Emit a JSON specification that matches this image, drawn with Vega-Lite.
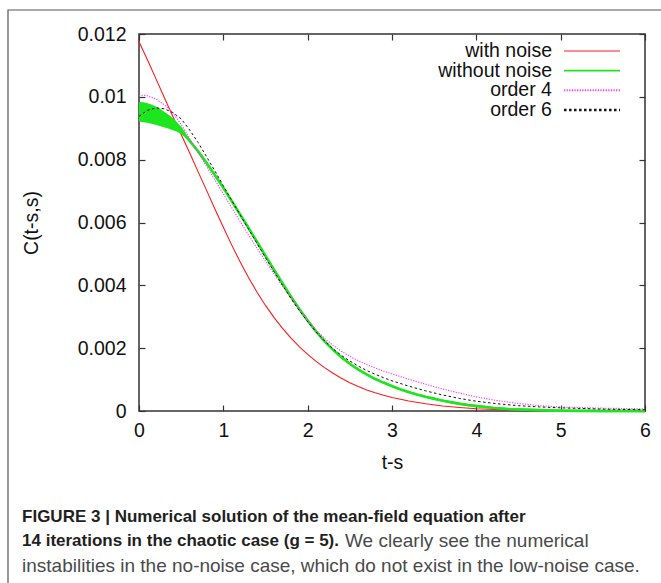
{
  "$schema": "https://vega.github.io/schema/vega-lite/v6.json",
  "width": 506,
  "height": 377,
  "autosize": {"type": "none"},
  "padding": {"left": 139, "top": 34, "right": 16, "bottom": 172},
  "background": "white",
  "config": {
    "view": {"stroke": "#333333", "strokeWidth": 1.5},
    "font": "Liberation Sans",
    "axis": {
      "grid": false, "domain": false, "tickColor": "#333333", "tickWidth": 1.2, "tickSize": -6,
      "labelFontSize": 19.5, "labelColor": "#111111", "labelFont": "Liberation Sans", "labelFlush": false,
      "titleFontSize": 19.5, "titleFontWeight": "normal", "titleColor": "#111111", "titleFont": "Liberation Sans"
    }
  },
  "datasets": {
    "noise": [
      {"t": 0, "c": 0.01175}, {"t": 0.1, "c": 0.01118}, {"t": 0.2, "c": 0.01058}, {"t": 0.3, "c": 0.00998},
      {"t": 0.4, "c": 0.00938}, {"t": 0.5, "c": 0.0088}, {"t": 0.6, "c": 0.00822}, {"t": 0.7, "c": 0.00762},
      {"t": 0.8, "c": 0.00703}, {"t": 0.9, "c": 0.00643}, {"t": 1.0, "c": 0.00585}, {"t": 1.1, "c": 0.00528},
      {"t": 1.2, "c": 0.00474}, {"t": 1.3, "c": 0.00424}, {"t": 1.4, "c": 0.00378}, {"t": 1.5, "c": 0.00336},
      {"t": 1.6, "c": 0.00298}, {"t": 1.7, "c": 0.00264}, {"t": 1.8, "c": 0.00233}, {"t": 1.9, "c": 0.00205},
      {"t": 2.0, "c": 0.0018}, {"t": 2.1, "c": 0.00158}, {"t": 2.2, "c": 0.00138}, {"t": 2.3, "c": 0.0012},
      {"t": 2.4, "c": 0.00104}, {"t": 2.5, "c": 0.0009}, {"t": 2.6, "c": 0.00078}, {"t": 2.7, "c": 0.00067},
      {"t": 2.8, "c": 0.00058}, {"t": 2.9, "c": 0.0005}, {"t": 3.0, "c": 0.00043}, {"t": 3.2, "c": 0.00032},
      {"t": 3.4, "c": 0.00023}, {"t": 3.6, "c": 0.00016}, {"t": 3.8, "c": 0.00011}, {"t": 4.0, "c": 0.00007},
      {"t": 4.3, "c": 0.00004}, {"t": 4.6, "c": 0.00002}, {"t": 5.0, "c": 0.00001}, {"t": 5.5, "c": 0}, {"t": 6.0, "c": 0}
    ],
    "nonoise": [
      {"t": 0, "lo": 0.00925, "hi": 0.0098}, {"t": 0.05, "lo": 0.00923, "hi": 0.00979},
      {"t": 0.1, "lo": 0.00921, "hi": 0.00976}, {"t": 0.15, "lo": 0.00918, "hi": 0.00971},
      {"t": 0.2, "lo": 0.00915, "hi": 0.00965}, {"t": 0.25, "lo": 0.00911, "hi": 0.00957},
      {"t": 0.3, "lo": 0.00907, "hi": 0.00948}, {"t": 0.35, "lo": 0.00903, "hi": 0.00938},
      {"t": 0.4, "lo": 0.00898, "hi": 0.00927}, {"t": 0.45, "lo": 0.00893, "hi": 0.00914},
      {"t": 0.5, "lo": 0.00886, "hi": 0.00899}, {"t": 0.55, "lo": 0.00875, "hi": 0.00879},
      {"t": 0.6, "lo": 0.0086, "hi": 0.0086}, {"t": 0.7, "lo": 0.00827, "hi": 0.00827},
      {"t": 0.8, "lo": 0.0079, "hi": 0.0079}, {"t": 0.9, "lo": 0.00751, "hi": 0.00751},
      {"t": 1.0, "lo": 0.0071, "hi": 0.0071}, {"t": 1.1, "lo": 0.00668, "hi": 0.00668},
      {"t": 1.2, "lo": 0.00625, "hi": 0.00625}, {"t": 1.3, "lo": 0.00582, "hi": 0.00582},
      {"t": 1.4, "lo": 0.00538, "hi": 0.00538}, {"t": 1.5, "lo": 0.00494, "hi": 0.00494},
      {"t": 1.6, "lo": 0.0045, "hi": 0.0045}, {"t": 1.7, "lo": 0.00407, "hi": 0.00407},
      {"t": 1.8, "lo": 0.00365, "hi": 0.00365}, {"t": 1.9, "lo": 0.00325, "hi": 0.00325},
      {"t": 2.0, "lo": 0.00288, "hi": 0.00288}, {"t": 2.1, "lo": 0.00253, "hi": 0.00253},
      {"t": 2.2, "lo": 0.00222, "hi": 0.00222}, {"t": 2.3, "lo": 0.00195, "hi": 0.00195},
      {"t": 2.4, "lo": 0.00171, "hi": 0.00171}, {"t": 2.5, "lo": 0.0015, "hi": 0.0015},
      {"t": 2.6, "lo": 0.00132, "hi": 0.00132}, {"t": 2.7, "lo": 0.00116, "hi": 0.00116},
      {"t": 2.8, "lo": 0.00102, "hi": 0.00102}, {"t": 2.9, "lo": 0.0009, "hi": 0.0009},
      {"t": 3.0, "lo": 0.00079, "hi": 0.00079}, {"t": 3.1, "lo": 0.00069, "hi": 0.00069},
      {"t": 3.2, "lo": 0.0006, "hi": 0.0006}, {"t": 3.3, "lo": 0.00052, "hi": 0.00052},
      {"t": 3.4, "lo": 0.00045, "hi": 0.00045}, {"t": 3.5, "lo": 0.00039, "hi": 0.00039},
      {"t": 3.6, "lo": 0.00033, "hi": 0.00033}, {"t": 3.7, "lo": 0.00028, "hi": 0.00028},
      {"t": 3.8, "lo": 0.00023, "hi": 0.00023}, {"t": 3.9, "lo": 0.00019, "hi": 0.00019},
      {"t": 4.0, "lo": 0.00016, "hi": 0.00016}, {"t": 4.2, "lo": 0.0001, "hi": 0.0001},
      {"t": 4.4, "lo": 0.00006, "hi": 0.00006}, {"t": 4.7, "lo": 0.00003, "hi": 0.00003},
      {"t": 5.0, "lo": 0.00001, "hi": 0.00001}, {"t": 5.5, "lo": 0, "hi": 0}, {"t": 6.0, "lo": 0, "hi": 0}
    ],
    "order4": [
      {"t": 0, "c": 0.01003}, {"t": 0.05, "c": 0.01005}, {"t": 0.1, "c": 0.01003}, {"t": 0.2, "c": 0.00993},
      {"t": 0.3, "c": 0.00975}, {"t": 0.4, "c": 0.0095}, {"t": 0.5, "c": 0.00912}, {"t": 0.6, "c": 0.00868},
      {"t": 0.7, "c": 0.00823}, {"t": 0.8, "c": 0.00779}, {"t": 0.9, "c": 0.00735}, {"t": 1.0, "c": 0.00691},
      {"t": 1.1, "c": 0.00647}, {"t": 1.2, "c": 0.00603}, {"t": 1.3, "c": 0.0056}, {"t": 1.4, "c": 0.00518},
      {"t": 1.5, "c": 0.00477}, {"t": 1.6, "c": 0.00437}, {"t": 1.7, "c": 0.00398}, {"t": 1.8, "c": 0.0036},
      {"t": 1.9, "c": 0.00323}, {"t": 2.0, "c": 0.00288}, {"t": 2.1, "c": 0.00257}, {"t": 2.2, "c": 0.00231},
      {"t": 2.3, "c": 0.00209}, {"t": 2.4, "c": 0.0019}, {"t": 2.5, "c": 0.00174}, {"t": 2.6, "c": 0.0016},
      {"t": 2.7, "c": 0.00148}, {"t": 2.8, "c": 0.00137}, {"t": 2.9, "c": 0.00127}, {"t": 3.0, "c": 0.00118},
      {"t": 3.2, "c": 0.00101}, {"t": 3.4, "c": 0.00085}, {"t": 3.6, "c": 0.0007}, {"t": 3.8, "c": 0.00057},
      {"t": 4.0, "c": 0.00045}, {"t": 4.25, "c": 0.00033}, {"t": 4.5, "c": 0.00024}, {"t": 4.75, "c": 0.00017},
      {"t": 5.0, "c": 0.00013}, {"t": 5.5, "c": 0.00009}, {"t": 6.0, "c": 0.00007}
    ],
    "order6": [
      {"t": 0, "c": 0.00938}, {"t": 0.1, "c": 0.00957}, {"t": 0.2, "c": 0.00965}, {"t": 0.3, "c": 0.00962},
      {"t": 0.4, "c": 0.0095}, {"t": 0.5, "c": 0.0093}, {"t": 0.6, "c": 0.00895}, {"t": 0.7, "c": 0.00855},
      {"t": 0.8, "c": 0.0081}, {"t": 0.9, "c": 0.00764}, {"t": 1.0, "c": 0.00717}, {"t": 1.1, "c": 0.0067},
      {"t": 1.2, "c": 0.00624}, {"t": 1.3, "c": 0.00578}, {"t": 1.4, "c": 0.00533}, {"t": 1.5, "c": 0.00488},
      {"t": 1.6, "c": 0.00444}, {"t": 1.7, "c": 0.00401}, {"t": 1.8, "c": 0.00359}, {"t": 1.9, "c": 0.0032},
      {"t": 2.0, "c": 0.00284}, {"t": 2.1, "c": 0.00252}, {"t": 2.2, "c": 0.00223}, {"t": 2.3, "c": 0.00198},
      {"t": 2.4, "c": 0.00177}, {"t": 2.5, "c": 0.00159}, {"t": 2.6, "c": 0.00143}, {"t": 2.7, "c": 0.00129},
      {"t": 2.8, "c": 0.00117}, {"t": 2.9, "c": 0.00106}, {"t": 3.0, "c": 0.00096}, {"t": 3.2, "c": 0.00079},
      {"t": 3.4, "c": 0.00064}, {"t": 3.6, "c": 0.00051}, {"t": 3.8, "c": 0.0004}, {"t": 4.0, "c": 0.00031},
      {"t": 4.25, "c": 0.00023}, {"t": 4.5, "c": 0.00017}, {"t": 4.75, "c": 0.00013}, {"t": 5.0, "c": 0.0001},
      {"t": 5.5, "c": 0.00006}, {"t": 6.0, "c": 0.00004}
    ],
    "legend": [
      {"series": "with noise"}, {"series": "without noise"}, {"series": "order 4"}, {"series": "order 6"}
    ]
  },
  "layer": [
    {
      "layer": [
        {
          "data": {"values": [{}]},
          "mark": {"type": "rect", "filled": false, "stroke": "#555555", "strokeWidth": 1.2, "clip": false},
          "encoding": {
            "x": {"datum": -1.5534, "type": "quantitative", "scale": {"domain": [0, 6], "nice": false, "zero": false}, "axis": null},
            "x2": {"datum": 6.6},
            "y": {"datum": -0.0075, "type": "quantitative", "scale": {"domain": [0, 0.012], "nice": false, "zero": false}, "axis": null},
            "y2": {"datum": 0.012764}
          }
        },
        {
          "data": {"name": "noise"},
          "mark": {"type": "line", "color": "#ff1a1a", "strokeWidth": 1.1},
          "encoding": {
            "x": {"field": "t", "type": "quantitative", "scale": {"domain": [0, 6], "nice": false, "zero": false},
              "axis": {"orient": "bottom", "values": [0, 1, 2, 3, 4, 5, 6], "format": "d", "labelPadding": 16, "title": "t-s", "titlePadding": 14}},
            "y": {"field": "c", "type": "quantitative", "scale": {"domain": [0, 0.012], "nice": false, "zero": false},
              "axis": {"orient": "left", "values": [0, 0.002, 0.004, 0.006, 0.008, 0.01, 0.012], "format": "~g", "labelPadding": 19, "title": "C(t-s,s)", "titlePadding": 36}}
          }
        },
        {
          "data": {"name": "nonoise"},
          "mark": {"type": "area", "color": "#1ee61e", "opacity": 1},
          "encoding": {
            "x": {"field": "t", "type": "quantitative", "scale": {"domain": [0, 6], "nice": false, "zero": false}, "axis": null},
            "y": {"field": "lo", "type": "quantitative", "scale": {"domain": [0, 0.012], "nice": false, "zero": false}, "axis": null},
            "y2": {"field": "hi"}
          }
        },
        {
          "data": {"name": "nonoise"},
          "mark": {"type": "line", "color": "#1ee61e", "strokeWidth": 2.4},
          "encoding": {
            "x": {"field": "t", "type": "quantitative", "scale": {"domain": [0, 6], "nice": false, "zero": false}, "axis": null},
            "y": {"field": "hi", "type": "quantitative", "scale": {"domain": [0, 0.012], "nice": false, "zero": false}, "axis": null}
          }
        },
        {
          "data": {"name": "nonoise"},
          "mark": {"type": "line", "color": "#1ee61e", "strokeWidth": 2.4},
          "encoding": {
            "x": {"field": "t", "type": "quantitative", "scale": {"domain": [0, 6], "nice": false, "zero": false}, "axis": null},
            "y": {"field": "lo", "type": "quantitative", "scale": {"domain": [0, 0.012], "nice": false, "zero": false}, "axis": null}
          }
        },
        {
          "data": {"name": "order4"},
          "mark": {"type": "line", "color": "#ff33ff", "strokeWidth": 1.1, "strokeDash": [1.2, 1.4]},
          "encoding": {
            "x": {"field": "t", "type": "quantitative", "scale": {"domain": [0, 6], "nice": false, "zero": false}, "axis": null},
            "y": {"field": "c", "type": "quantitative", "scale": {"domain": [0, 0.012], "nice": false, "zero": false}, "axis": null}
          }
        },
        {
          "data": {"name": "order6"},
          "mark": {"type": "line", "color": "#111111", "strokeWidth": 1, "strokeDash": [2.5, 2.5]},
          "encoding": {
            "x": {"field": "t", "type": "quantitative", "scale": {"domain": [0, 6], "nice": false, "zero": false}, "axis": null},
            "y": {"field": "c", "type": "quantitative", "scale": {"domain": [0, 0.012], "nice": false, "zero": false}, "axis": null}
          }
        },
        {
          "data": {"name": "noise"},
          "mark": {"type": "point", "opacity": 0},
          "encoding": {
            "x": {"field": "t", "type": "quantitative", "scale": {"domain": [0, 6], "nice": false, "zero": false},
              "axis": {"orient": "top", "values": [0, 1, 2, 3, 4, 5, 6], "labels": false, "title": null}},
            "y": {"field": "c", "type": "quantitative", "scale": {"domain": [0, 0.012], "nice": false, "zero": false},
              "axis": {"orient": "right", "values": [0, 0.002, 0.004, 0.006, 0.008, 0.01, 0.012], "labels": false, "title": null}}
          }
        },
        {
          "data": {"values": [{}]},
          "mark": {"type": "text", "text": "FIGURE 3 | Numerical solution of the mean-field equation after", "align": "left", "baseline": "middle", "fontSize": 17, "fontWeight": "bold", "color": "#231f20", "font": "Liberation Sans"},
          "encoding": {
            "x": {"datum": -1.387, "type": "quantitative", "scale": {"domain": [0, 6], "nice": false, "zero": false}, "axis": null},
            "y": {"datum": -0.003364, "type": "quantitative", "scale": {"domain": [0, 0.012], "nice": false, "zero": false}, "axis": null}
          }
        },
        {
          "data": {"values": [{}]},
          "mark": {"type": "text", "text": "14 iterations in the chaotic case (g = 5).", "align": "left", "baseline": "middle", "fontSize": 17, "fontWeight": "bold", "color": "#231f20", "font": "Liberation Sans"},
          "encoding": {
            "x": {"datum": -1.387, "type": "quantitative", "scale": {"domain": [0, 6], "nice": false, "zero": false}, "axis": null},
            "y": {"datum": -0.004138, "type": "quantitative", "scale": {"domain": [0, 0.012], "nice": false, "zero": false}, "axis": null}
          }
        },
        {
          "data": {"values": [{}]},
          "mark": {"type": "text", "text": "We clearly see the numerical", "align": "left", "baseline": "middle", "fontSize": 19, "color": "#4a4a4a", "font": "Liberation Sans"},
          "encoding": {
            "x": {"datum": 2.443, "type": "quantitative", "scale": {"domain": [0, 6], "nice": false, "zero": false}, "axis": null},
            "y": {"datum": -0.004138, "type": "quantitative", "scale": {"domain": [0, 0.012], "nice": false, "zero": false}, "axis": null}
          }
        },
        {
          "data": {"values": [{}]},
          "mark": {"type": "text", "text": "instabilities in the no-noise case, which do not exist in the low-noise case.", "align": "left", "baseline": "middle", "fontSize": 19, "color": "#4a4a4a", "font": "Liberation Sans"},
          "encoding": {
            "x": {"datum": -1.387, "type": "quantitative", "scale": {"domain": [0, 6], "nice": false, "zero": false}, "axis": null},
            "y": {"datum": -0.004934, "type": "quantitative", "scale": {"domain": [0, 0.012], "nice": false, "zero": false}, "axis": null}
          }
        }
      ],
      "resolve": {"axis": {"x": "independent", "y": "independent"}}
    },
    {
      "data": {"name": "legend"},
      "encoding": {
        "y": {"field": "series", "type": "nominal",
          "scale": {"type": "point", "domain": ["with noise", "without noise", "order 4", "order 6"], "range": [17, 76], "padding": 0},
          "axis": null}
      },
      "layer": [
        {
          "mark": {"type": "text", "align": "right", "baseline": "middle", "fontSize": 19.5, "color": "#111111", "font": "Liberation Sans"},
          "encoding": {
            "x": {"datum": 4.897, "type": "quantitative", "scale": {"domain": [0, 6], "nice": false, "zero": false}, "axis": null},
            "text": {"field": "series"}
          }
        },
        {
          "mark": {"type": "rule"},
          "encoding": {
            "x": {"datum": 5.04, "type": "quantitative", "scale": {"domain": [0, 6], "nice": false, "zero": false}, "axis": null},
            "x2": {"datum": 5.704},
            "color": {"field": "series", "type": "nominal", "scale": {"domain": ["with noise", "without noise", "order 4", "order 6"], "range": ["#ff1a1a", "#1ee61e", "#ff33ff", "#111111"]}, "legend": null},
            "strokeDash": {"field": "series", "type": "nominal", "scale": {"domain": ["with noise", "without noise", "order 4", "order 6"], "range": [[1, 0], [1, 0], [1.2, 1.4], [2.5, 2.5]]}, "legend": null},
            "strokeWidth": {"field": "series", "type": "nominal", "scale": {"domain": ["with noise", "without noise", "order 4", "order 6"], "range": [1.2, 2.4, 1.1, 1]}, "legend": null}
          }
        }
      ]
    }
  ],
  "resolve": {"scale": {"y": "independent"}}
}
